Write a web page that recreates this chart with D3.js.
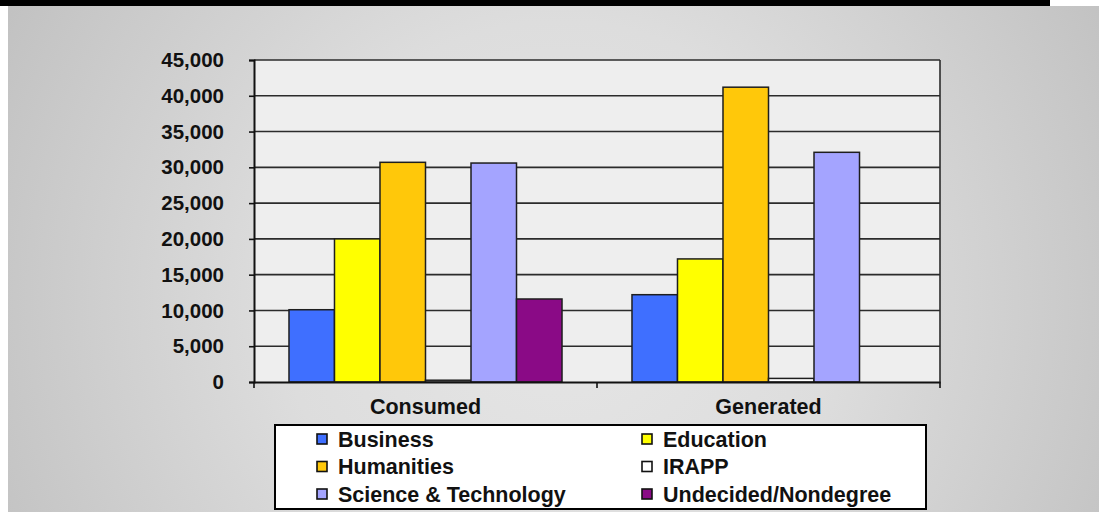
<!DOCTYPE html>
<html>
<head>
<meta charset="utf-8">
<script src="https://cdn.jsdelivr.net/npm/d3@7"></script>
<style>
  body { margin: 0; padding: 0; background: #fff; }
  svg { display: block; font-family: "Liberation Sans", Arial, sans-serif; }
</style>
</head>
<body>
<div id="chart"></div>
<script>
// Chart data
var categories = ["Consumed", "Generated"];
var programs = ["Business", "Education", "Humanities", "IRAPP", "Science & Technology", "Undecided/Nondegree"];
var consumedValues = [10100, 20000, 30700, 250, 30600, 11600];
var generatedValues = [12200, 17200, 41200, 500, 32100, 0];
var yTicks = [0, 5000, 10000, 15000, 20000, 25000, 30000, 35000, 40000, 45000];
var programColors = ["#3f6fff", "#ffff00", "#ffc80a", "#ffffff", "#a4a4ff", "#8a0a86"];

var width = 1099, height = 512;
var margin = { top: 60, right: 159, bottom: 130, left: 254 };

var svg = d3.select("#chart").append("svg")
            .attr("width", width)
            .attr("height", height);

// Background: radial grey gradient, white strip on the left, black band on top
var defs = svg.append("defs");
var grad = defs.append("radialGradient")
               .attr("id", "bg")
               .attr("gradientUnits", "userSpaceOnUse")
               .attr("cx", 560).attr("cy", 300).attr("r", 620);
grad.append("stop").attr("offset", "0%").attr("stop-color", "#e6e6e6");
grad.append("stop").attr("offset", "45%").attr("stop-color", "#dddddd");
grad.append("stop").attr("offset", "100%").attr("stop-color", "#c2c2c2");

svg.append("rect").attr("x", 8).attr("y", 6).attr("width", width - 8).attr("height", height - 6)
   .attr("fill", "url(#bg)");
svg.append("rect").attr("x", 0).attr("y", 0).attr("width", 1050).attr("height", 6).attr("fill", "#000");

// Scales
var x0 = d3.scaleBand().domain(categories).range([margin.left, width - margin.right]);
var inset = x0.bandwidth() * 0.102;
var x1 = d3.scaleBand().domain(programs).range([inset, x0.bandwidth() - inset]);
var y = d3.scaleLinear().domain([0, 45000]).range([height - margin.bottom, margin.top]);
var color = d3.scaleOrdinal().domain(programs).range(programColors);

// Plot area
svg.append("rect")
   .attr("x", margin.left).attr("y", y(45000))
   .attr("width", x0.range()[1] - margin.left).attr("height", y(0) - y(45000))
   .attr("fill", "#eeeeee");

// Gridlines
svg.append("g").selectAll("line")
   .data(yTicks.filter(function(d) { return d > 0; }))
   .enter().append("line")
   .attr("x1", margin.left).attr("x2", x0.range()[1])
   .attr("y1", function(d) { return y(d); }).attr("y2", function(d) { return y(d); })
   .attr("stroke", "#2b2b2b").attr("stroke-width", 1.6);

// Right border of plot
svg.append("line")
   .attr("x1", x0.range()[1]).attr("x2", x0.range()[1])
   .attr("y1", y(45000)).attr("y2", y(0))
   .attr("stroke", "#2b2b2b").attr("stroke-width", 1.6);

// Bars
var groups = svg.append("g").selectAll("g")
   .data(categories)
   .enter().append("g")
   .attr("transform", function(d) { return "translate(" + x0(d) + ",0)"; });

groups.selectAll("rect")
   .data(function(d, i) {
     var vals = i === 0 ? consumedValues : generatedValues;
     return programs.map(function(p, j) { return { key: p, value: vals[j] }; });
   })
   .enter().append("rect")
   .filter(function(d) { return d.value > 0; })
   .attr("x", function(d) { return x1(d.key); })
   .attr("y", function(d) { return y(d.value); })
   .attr("width", x1.bandwidth())
   .attr("height", function(d) { return y(0) - y(d.value); })
   .attr("fill", function(d) { return color(d.key); })
   .attr("stroke", "#1e1e1e")
   .attr("stroke-width", 1.5);

// Y axis
var yAxis = d3.axisLeft(y).tickValues(yTicks).tickSize(5).tickPadding(25)
              .tickFormat(d3.format(","));
var yg = svg.append("g")
   .attr("transform", "translate(" + margin.left + ",0)")
   .call(yAxis);
yg.select(".domain").attr("stroke", "#111").attr("stroke-width", 2);
yg.selectAll(".tick line").attr("stroke", "#111").attr("stroke-width", 1.6);
yg.selectAll("text")
  .attr("fill", "#111")
  .style("font-size", "20.5px")
  .style("font-weight", "bold");

// X axis
var xAxis = d3.axisBottom(x0).tickSize(0).tickPadding(17);
var xg = svg.append("g")
   .attr("transform", "translate(0," + y(0) + ")")
   .call(xAxis);
xg.select(".domain").attr("stroke", "#111").attr("stroke-width", 2);
xg.selectAll("text")
  .attr("fill", "#111")
  .style("font-size", "21.5px")
  .style("font-weight", "bold");

// Tick marks between categories
var edges = [x0.range()[0], x0(categories[1]), x0.range()[1]];
xg.selectAll("line.edge")
  .data(edges)
  .enter().append("line")
  .attr("class", "edge")
  .attr("x1", function(d) { return d; }).attr("x2", function(d) { return d; })
  .attr("y1", 0).attr("y2", 6)
  .attr("stroke", "#111").attr("stroke-width", 1.6);

// Legend
var legend = svg.append("g");
legend.append("rect")
      .attr("x", 275).attr("y", 425).attr("width", 651).attr("height", 84)
      .attr("fill", "#fff").attr("stroke", "#000").attr("stroke-width", 2);

var legendItems = legend.selectAll("g.item")
      .data(programs)
      .enter().append("g")
      .attr("class", "item")
      .attr("transform", function(d, i) {
        var col = i % 2, row = Math.floor(i / 2);
        return "translate(" + (col === 0 ? 317 : 642) + "," + (439 + row * 27.5) + ")";
      });

legendItems.append("rect")
      .attr("x", 0).attr("y", -5).attr("width", 10).attr("height", 10)
      .attr("fill", function(d) { return color(d); })
      .attr("stroke", "#111").attr("stroke-width", 1.6);

legendItems.append("text")
      .attr("x", 21).attr("y", 0).attr("dy", "0.36em")
      .attr("fill", "#111")
      .style("font-size", "21.5px")
      .style("font-weight", "bold")
      .text(function(d) { return d; });
</script>
</body>
</html>
